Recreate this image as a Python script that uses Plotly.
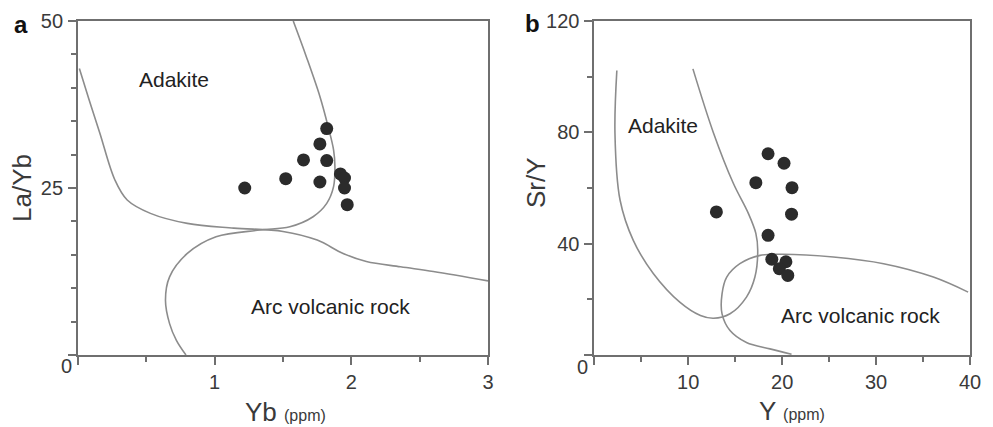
import plotly.graph_objects as go

# ---- panel a: La/Yb vs Yb ----
a_yb = [1.22, 1.52, 1.65, 1.77, 1.82, 1.82, 1.77, 1.92, 1.95, 1.95, 1.97]
a_layb = [25.0, 26.4, 29.2, 31.6, 33.9, 29.1, 25.9, 27.1, 26.5, 25.0, 22.5]

# boundary between adakite and arc field (upper-left to right edge)
a_line1_x = [0.01, 0.08, 0.16, 0.27, 0.36, 0.53, 0.80, 1.14, 1.50, 1.75, 1.94, 2.11, 2.36, 2.60, 3.0]
a_line1_y = [42.9, 38.3, 33.2, 26.2, 23.2, 21.2, 19.7, 19.0, 18.5, 17.2, 15.2, 14.0, 13.2, 12.5, 11.1]
# adakite right limit continuing into the arc volcanic rock field
a_line2_x = [1.575, 1.67, 1.77, 1.83, 1.87, 1.88, 1.87, 1.82, 1.72, 1.55, 1.33, 1.01, 0.80, 0.67, 0.64, 0.67, 0.72, 0.79]
a_line2_y = [50.0, 44.7, 38.7, 34.2, 30.7, 28.2, 25.2, 22.7, 20.7, 19.2, 18.7, 17.7, 15.2, 11.7, 8.2, 4.7, 2.2, 0.0]

# ---- panel b: Sr/Y vs Y ----
b_y = [13.0, 17.2, 18.5, 20.2, 21.05, 21.0, 18.5, 18.9, 20.4, 19.7, 20.6]
b_sry = [51.4, 61.9, 72.3, 68.9, 60.1, 50.6, 43.0, 34.4, 33.5, 31.0, 28.6]

b_line1_x = [2.4, 2.2, 2.74, 4.15, 6.3, 9.1, 11.3, 12.7, 14.45, 16.2, 17.1, 17.4, 17.2, 16.4, 14.8, 12.7, 10.5]
b_line1_y = [102.2, 79.7, 55.7, 41.2, 29.2, 19.0, 14.2, 13.2, 14.8, 20.8, 28.0, 37.6, 43.7, 50.9, 61.7, 79.7, 102.8]
b_line2_x = [39.8, 36.1, 30.8, 25.45, 20.1, 17.65, 15.5, 14.1, 13.6, 13.6, 14.45, 16.2, 18.7, 21.0]
b_line2_y = [22.6, 28.0, 32.8, 35.2, 36.2, 35.8, 32.8, 28.0, 22.0, 14.8, 8.8, 4.5, 2.2, 0.3]

a_xticks = [0, 1, 2, 3]
a_yticks = [0, 25, 50]
b_xticks = [0, 10, 20, 30, 40]
b_yticks = [0, 40, 80, 120]

W, H = 993, 427
FONT = "Arial, Liberation Sans, sans-serif"
CURVE = "#8c8c8c"
AXIS = "#6f6f6f"
DOT = "#2b2b2b"
TXT = "#3a3a3a"

fig = go.Figure()

def curve(x, y, xa, ya):
    fig.add_trace(go.Scatter(x=x, y=y, mode="lines", xaxis=xa, yaxis=ya,
                             line=dict(color=CURVE, width=1.6, shape="spline", smoothing=1.0),
                             hoverinfo="skip", showlegend=False))

curve(a_line1_x, a_line1_y, "x", "y")
curve(a_line2_x, a_line2_y, "x", "y")
fig.add_trace(go.Scatter(x=a_yb, y=a_layb, mode="markers", xaxis="x", yaxis="y",
                         marker=dict(size=13, color=DOT), showlegend=False))

curve(b_line1_x, b_line1_y, "x2", "y2")
curve(b_line2_x, b_line2_y, "x2", "y2")
fig.add_trace(go.Scatter(x=b_y, y=b_sry, mode="markers", xaxis="x2", yaxis="y2",
                         marker=dict(size=13, color=DOT), showlegend=False))

def axis(domain, rng, vals, minor, anchor, ytype=False):
    texts = ["" if v == 0 else str(v) for v in vals]
    return dict(domain=domain, range=rng, tickvals=vals, ticktext=texts,
                ticks="outside", ticklen=8, tickwidth=1.5, tickcolor=AXIS,
                minor=dict(dtick=minor, ticks="outside", ticklen=5, tickwidth=1.5, tickcolor=AXIS),
                showline=True, linecolor=AXIS, linewidth=1.8, mirror=True,
                showgrid=False, zeroline=False, anchor=anchor, automargin=False,
                tickfont=dict(family=FONT, size=20, color=TXT),
                ticklabelstandoff=1 if ytype else 0, fixedrange=True)

ydom = [1 - 355 / H, 1 - 21 / H]
fig.update_layout(
    width=W, height=H, margin=dict(l=0, r=0, t=0, b=0, pad=0, autoexpand=False),
    paper_bgcolor="white", plot_bgcolor="white",
    xaxis=axis([78 / W, 488 / W], [0, 3], a_xticks, 0.5, "y"),
    yaxis=axis(ydom, [0, 50], a_yticks, 5, "x", True),
    xaxis2=axis([594.3 / W, 970 / W], [0, 40], b_xticks, 5, "y2"),
    yaxis2=axis(ydom, [0, 120], b_yticks, 20, "x2", True),
)

def px_note(text, x, y, size, angle=0, bold=False):
    fig.add_annotation(text=f"<b>{text}</b>" if bold else text,
                       x=x / W, y=1 - y / H, xref="paper", yref="paper",
                       showarrow=False, textangle=angle, xanchor="center", yanchor="middle",
                       font=dict(family=FONT, size=size, color=TXT if not bold else "#111"))

def data_note(text, x, y, xref, yref):
    fig.add_annotation(text=text, x=x, y=y, xref=xref, yref=yref, showarrow=False,
                       font=dict(family=FONT, size=21, color="#222"))

data_note("Adakite", 0.70, 41.2, "x", "y")
data_note("Arc volcanic rock", 1.85, 7.3, "x", "y")
data_note("Adakite", 7.35, 82.4, "x2", "y2")
data_note("Arc volcanic rock", 28.3, 14.2, "x2", "y2")

px_note("a", 21, 25, 24, bold=True)
px_note("b", 532, 24, 24, bold=True)
px_note("0", 66, 366, 20)
px_note("0", 582, 367, 20)
px_note("La/Yb", 22, 188, 26, angle=-90)
px_note("Sr/Y", 536, 183, 26, angle=-90)
px_note("Yb <span style='font-size:16px'>(ppm)</span>", 285, 412, 26)
px_note("Y <span style='font-size:16px'>(ppm)</span>", 792, 411, 26)

fig.write_html("out.html")
